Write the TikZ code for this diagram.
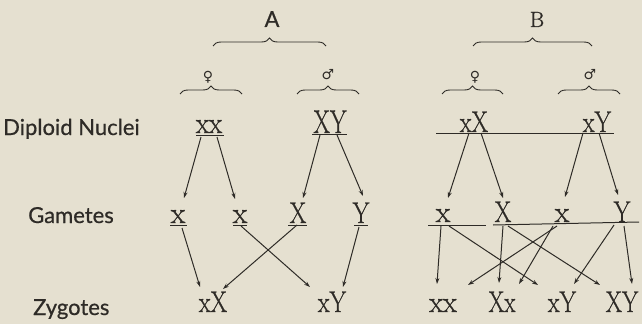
\documentclass[tikz,border=0pt]{standalone}
\usepackage{fontspec}
\usepackage{graphicx}
\setsansfont{Lato}[FakeBold=0.6]
\newfontfamily\signfont{DejaVu Sans}
\newfontfamily\genefont{Latin Modern Roman}[FakeBold=0.9]
\usetikzlibrary{arrows.meta, calc, decorations.pathreplacing}
\definecolor{paper}{HTML}{E5E0D0}
\definecolor{ink}{HTML}{2E2B27}
\newcommand{\slim}[1]{\scalebox{0.8}[1]{#1}}

\begin{document}
\begin{tikzpicture}[
    x=1pt, y=-1pt,
    rowlabel/.style={font=\sffamily\fontsize{22}{22}\selectfont, text=ink, anchor=base west, inner sep=0pt},
    gene/.style={font=\genefont\fontsize{30}{30}\selectfont, text=ink, anchor=base, inner sep=0pt},
    biggene/.style={gene, font=\genefont\fontsize{33}{33}\selectfont},
    sexsign/.style={font=\signfont\fontsize{14}{14}\selectfont, text=ink, inner sep=0pt},
    arrow/.style={-{Stealth[length=6pt, width=4pt]}, draw=ink, line width=1pt},
    bar/.style={draw=ink, line width=1pt},
    curly/.style={draw=ink, line width=0.9pt, decorate, decoration={brace, amplitude=8pt}}
]

% Paper
\fill[paper] (0,0) rectangle (642,324);
\useasboundingbox (0,0) rectangle (642,324);

% Row labels
\node[rowlabel] (dipl) at (3,135) {Diploid Nuclei};
\node[rowlabel] (gam) at (28,223) {Gametes};
\node[rowlabel] (zyg) at (33,315) {Zygotes};

% Crosses and sexes
\node[font=\sffamily\fontsize{22}{22}\selectfont, text=ink, anchor=base, inner sep=0pt] (crossA) at (272,27) {A};
\node[font=\genefont\fontsize{22}{22}\selectfont, text=ink, anchor=base, inner sep=0pt] (crossB) at (537,27) {B};
\draw[curly] (213,46) -- (326,46);
\draw[curly] (473,46) -- (592,46);

\node[sexsign] (femA) at (208,77) {♀};
\node[sexsign] (maleA) at (328,75) {♂};
\node[sexsign] (femB) at (475,77) {♀};
\node[sexsign] (maleB) at (590,75) {♂};
\draw[curly] (180,94) -- (242,94);
\draw[curly] (297,94) -- (359,94);
\draw[curly] (442,94) -- (503,94);
\draw[curly] (558,94) -- (620,94);

% Diploid nuclei
\node[gene] (aF) at (209,133) {\scalebox{0.9}[1]{xx}};
\node[biggene] (aM) at (330,133) {\scalebox{0.72}[1]{XY}};
\node[gene] (bF) at (474,132) {\slim{xX}};
\node[gene] (bM) at (597,132) {\slim{xY}};
\draw[bar] ($(aF.base)+(-13,2)$) -- ($(aF.base)+(15,2)$);
\draw[bar] ($(aM.base)+(-18,1)$) -- ($(aM.base)+(17,1)$);
\draw[bar] ($(bF.base)+(-38,1)$) -- ($(bM.base)+(17,1)$);

% Gametes
\node[gene] (ag1) at (178,223) {x};
\node[gene] (ag2) at (240,223) {x};
\node[gene] (ag3) at (298,223) {\slim{X}};
\node[gene] (ag4) at (361,223) {\slim{Y}};
\node[gene] (bg1) at (443,222) {x};
\node[gene] (bg2) at (503,222) {\slim{X}};
\node[gene] (bg3) at (562,222) {x};
\node[gene] (bg4) at (622,222) {\slim{Y}};
\draw[bar] ($(ag1.base)+(-8,2)$) -- ($(ag1.base)+(9,2)$);
\draw[bar] ($(ag2.base)+(-7,2)$) -- ($(ag2.base)+(7,2)$);
\draw[bar] ($(ag3.base)+(-10,2)$) -- ($(ag3.base)+(9,2)$);
\draw[bar] ($(ag4.base)+(-7,2)$) -- ($(ag4.base)+(7,2)$);
\draw[bar] ($(bg1.base)+(-15,3)$) -- ($(bg1.base)+(43,3)$);
\draw[bar] ($(bg2.base)+(-10,3)$) -- ($(bg4.base)+(17,0)$);

% Zygotes
\node[gene] (az1) at (213,312) {\slim{xX}};
\node[gene] (az2) at (332,312) {\slim{xY}};
\node[gene] (bz1) at (443,312) {\scalebox{0.95}[1]{xx}};
\node[gene] (bz2) at (502,312) {\scalebox{0.76}[1]{Xx}};
\node[gene] (bz3) at (562,312) {\slim{xY}};
\node[gene] (bz4) at (622,312) {\scalebox{0.78}[1]{XY}};

% Arrows, nuclei to gametes
\draw[arrow] ($(aF.base)+(-8,4)$) -- ($(ag1.base)+(6,-25)$);
\draw[arrow] ($(aF.base)+(8,4)$) -- ($(ag2.base)+(-5,-24)$);
\draw[arrow] ($(aM.base)+(-10,2)$) -- ($(ag3.base)+(5,-25)$);
\draw[arrow] ($(aM.base)+(7,2)$) -- ($(ag4.base)+(2,-27)$);
\draw[arrow] ($(bF.base)+(-5,1)$) -- ($(bg1.base)+(5,-24)$);
\draw[arrow] ($(bF.base)+(7,1)$) -- ($(bg2.base)+(0,-24)$);
\draw[arrow] ($(bM.base)+(-14,1)$) -- ($(bg3.base)+(3,-25)$);
\draw[arrow] ($(bM.base)+(2,1)$) -- ($(bg4.base)+(-4,-27)$);

% Arrows, gametes to zygotes
\draw[arrow] ($(ag1.base)+(4,5)$) -- ($(az1.base)+(-13,-25)$);
\draw[arrow] ($(ag3.base)+(-1,2)$) -- ($(az1.base)+(10,-23)$);
\draw[arrow] ($(ag2.base)+(1,3)$) -- ($(az2.base)+(-22,-25)$);
\draw[arrow] ($(ag4.base)+(-2,4)$) -- ($(az2.base)+(11,-25)$);
\draw[arrow] ($(bg1.base)+(-2,4)$) -- ($(bz1.base)+(-6,-28)$);
\draw[arrow] ($(bg3.base)+(-5,4)$) -- ($(bz1.base)+(25,-27)$);
\draw[arrow] ($(bg2.base)+(0,4)$) -- ($(bz2.base)+(-3,-29)$);
\draw[arrow] ($(bg3.base)+(-9,4)$) -- ($(bz2.base)+(17,-28)$);
\draw[arrow] ($(bg1.base)+(6,4)$) -- ($(bz3.base)+(-24,-27)$);
\draw[arrow] ($(bg4.base)+(-8,3)$) -- ($(bz3.base)+(12,-28)$);
\draw[arrow] ($(bg2.base)+(5,4)$) -- ($(bz4.base)+(-22,-27)$);
\draw[arrow] ($(bg4.base)+(2,4)$) -- ($(bz4.base)+(10,-28)$);

\end{tikzpicture}
\end{document}
